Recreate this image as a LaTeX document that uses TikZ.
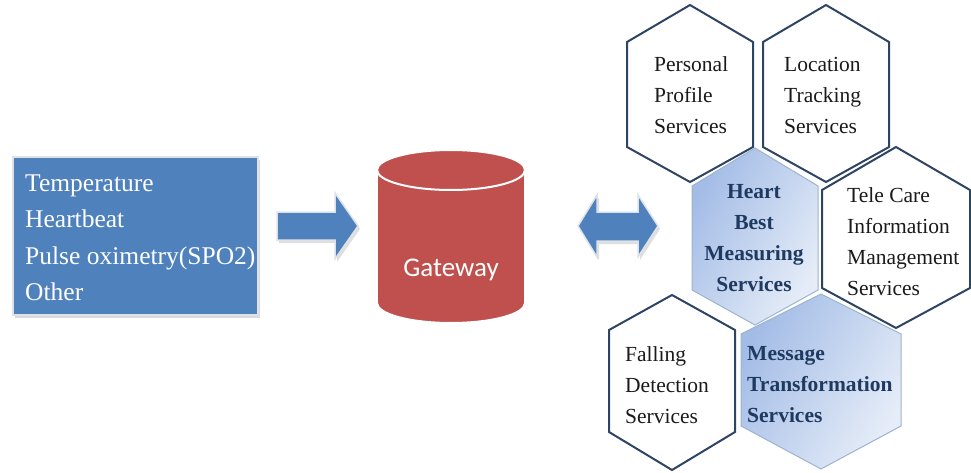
\documentclass[tikz,border=0pt]{standalone}
\usepackage{fontspec}
\setmainfont{Liberation Serif}
\newfontfamily\gwfont{Carlito}
\usetikzlibrary{shadows}

\definecolor{boxblue}{HTML}{4F81BD}
\definecolor{gwred}{HTML}{C0504D}
\definecolor{hexline}{HTML}{2E4463}
\definecolor{hextext}{HTML}{1A1A1A}
\definecolor{boldnavy}{HTML}{1F3A60}
\definecolor{paleline}{HTML}{9DB3CF}
\definecolor{hexdeep}{HTML}{A3BCE6}
\definecolor{hexlight}{HTML}{E6EDF8}
\definecolor{rimgray}{HTML}{DDE2E8}

% pointy-top hexagon: style, centre x, top y, half width, side top y, side bottom y, bottom y
\newcommand{\hexshape}[7]{%
  \path[#1] (#2,#3) -- ({#2+#4},#5) -- ({#2+#4},#6) -- (#2,#7)
    -- ({#2-#4},#6) -- ({#2-#4},#5) -- cycle;}

\begin{document}
\begin{tikzpicture}[x=1pt,y=-1pt,
  plainhex/.style={fill=white, draw=hexline, line width=2pt, line join=miter},
  bluehex/.style={draw=paleline, line width=1pt, left color=hexdeep, right color=hexlight, shading angle=60},
  hextxt/.style={font=\fontsize{21.5}{31}\selectfont, text=hextext, align=left, inner sep=0pt},
  boldtxt/.style={font=\fontsize{21.5}{31}\selectfont\bfseries, text=boldnavy, inner sep=0pt},
  blockarrow/.style={fill=boxblue, draw=rimgray, line width=1.5pt,
    drop shadow={opacity=0.25, shadow xshift=2pt, shadow yshift=-3pt}},
  sensorbox/.style={rectangle, fill=boxblue, draw=rimgray, line width=1.5pt,
    minimum width=245pt, minimum height=158pt, inner sep=0pt,
    drop shadow={opacity=0.3, shadow xshift=2pt, shadow yshift=-3pt}},
  sensortxt/.style={font=\fontsize{25.5}{36.5}\selectfont, text=white, align=left, inner sep=0pt}
]
\useasboundingbox (0,0) rectangle (971,473);

% sensor readings
\node[sensorbox] (sensors) at (135.5,236) {};
\node[sensortxt, anchor=west] (readings) at (25,238)
  {Temperature\\Heartbeat\\Pulse oximetry(SPO2)\\Other};

% arrow into the gateway
\path[blockarrow] (277,212) -- (335,212) -- (335,193) -- (358,226)
  -- (335,259) -- (335,240) -- (277,240) -- cycle;

% gateway cylinder
\begin{scope}[draw=white, line width=2pt]
  \filldraw[fill=gwred] (451,303) ellipse [x radius=74pt, y radius=20pt];
  \fill[gwred] (377,170) rectangle (525,303);
  \draw (377,170) -- (377,303) (525,170) -- (525,303);
  \filldraw[fill=gwred] (451,170) ellipse [x radius=74pt, y radius=20pt];
\end{scope}
\node[font=\gwfont\fontsize{27}{30}\selectfont, text=white] (gateway) at (451,270) {Gateway};

% two-way arrow to the services
\path[blockarrow] (578,226) -- (597,195) -- (597,212) -- (638,212) -- (638,195)
  -- (658,226) -- (638,257) -- (638,241) -- (597,241) -- (597,257) -- cycle;

% service hexagons
\hexshape{plainhex}{690}{5}{63}{42}{147}{182}
\hexshape{plainhex}{826}{5}{63}{42}{147}{182}
\hexshape{plainhex}{896}{147}{74}{190}{288}{328}
\hexshape{plainhex}{672}{295}{63}{330}{432}{470}
\hexshape{bluehex}{755}{148}{63}{186}{290}{325}
\hexshape{bluehex}{821}{294}{80}{334}{426}{469}

\node[hextxt, anchor=west] (pp) at (654,95) {Personal\\Profile\\Services};
\node[hextxt, anchor=west] (lt) at (784,95) {Location\\Tracking\\Services};
\node[boldtxt, align=center] (hb) at (754,238) {Heart\\Best\\Measuring\\Services};
\node[hextxt, anchor=west] (tc) at (847,242) {Tele Care\\Information\\Management\\Services};
\node[hextxt, anchor=west] (fd) at (625,385) {Falling\\Detection\\Services};
\node[boldtxt, align=left, anchor=west] (mt) at (747,385) {Message\\Transformation\\Services};
\end{tikzpicture}
\end{document}
